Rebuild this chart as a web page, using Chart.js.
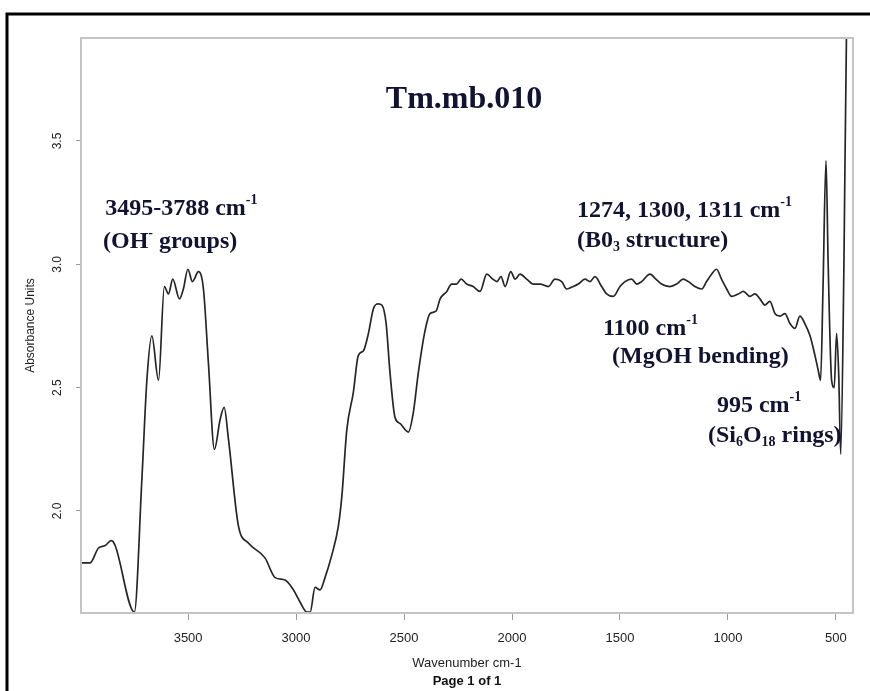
<!DOCTYPE html>
<html>
<head>
<meta charset="utf-8">
<script src="https://cdn.jsdelivr.net/npm/chart.js@4.4.1/dist/chart.umd.min.js"></script>
<style>
  html, body { margin: 0; padding: 0; background: #fff; }
  #wrap { width: 870px; height: 691px; position: relative; }
</style>
</head>
<body>
<div id="wrap"><canvas id="spectrum"></canvas></div>
<script>
// FTIR spectrum (wavenumber cm-1, absorbance)
const wavenumbers = [
  3996, 3954, 3915, 3884, 3856, 3838, 3749, 3714, 3691, 3668, 3637, 3610, 3591, 3571,
  3540, 3522, 3501, 3480, 3452, 3429, 3406, 3378, 3352, 3333, 3313, 3267, 3221, 3144,
  3097, 3051, 3012, 2981, 2950, 2935, 2912, 2889, 2866, 2835, 2804, 2788, 2765, 2735,
  2712, 2688, 2665, 2642, 2619, 2603, 2583, 2565, 2542, 2519, 2480, 2457, 2434, 2403,
  2380, 2352, 2333, 2302, 2280, 2257, 2236, 2210, 2180, 2148, 2117, 2089, 2070, 2051,
  2032, 2006, 1986, 1963, 1932, 1901, 1870, 1832, 1801, 1770, 1747, 1716, 1693, 1662,
  1639, 1616, 1585, 1562, 1531, 1500, 1477, 1446, 1423, 1400, 1361, 1334, 1308, 1269,
  1238, 1207, 1184, 1153, 1122, 1099, 1076, 1053, 1030, 1006, 983, 952, 929, 898,
  875, 852, 829, 806, 782, 759, 736, 713, 690, 667, 644, 620, 597, 582,
  571, 560, 546, 536, 520, 508, 497, 487, 478, 463, 451, 440, 421
];
const absorbance = [
  1.79, 1.79, 1.85, 1.86, 1.88, 1.86, 1.59, 2.13, 2.53, 2.71, 2.53, 2.91, 2.88, 2.94,
  2.86, 2.90, 2.98, 2.93, 2.97, 2.90, 2.60, 2.25, 2.37, 2.42, 2.29, 1.94, 1.87, 1.81,
  1.73, 1.72, 1.68, 1.63, 1.59, 1.59, 1.69, 1.68, 1.73, 1.82, 1.94, 2.06, 2.33, 2.48,
  2.63, 2.65, 2.72, 2.82, 2.84, 2.835, 2.76, 2.56, 2.38, 2.355, 2.32, 2.40, 2.56, 2.73,
  2.80, 2.81, 2.86, 2.89, 2.92, 2.92, 2.94, 2.92, 2.91, 2.89, 2.96, 2.94, 2.93, 2.95,
  2.91, 2.97, 2.94, 2.96, 2.94, 2.92, 2.92, 2.91, 2.94, 2.93, 2.90, 2.91, 2.92, 2.94,
  2.93, 2.95, 2.91, 2.88, 2.87, 2.91, 2.93, 2.94, 2.92, 2.93, 2.96, 2.94, 2.92, 2.91,
  2.92, 2.94, 2.93, 2.91, 2.90, 2.93, 2.96, 2.98, 2.94, 2.90, 2.87, 2.88, 2.89, 2.87,
  2.88, 2.86, 2.835, 2.85, 2.80, 2.79, 2.80, 2.76, 2.74, 2.79, 2.76, 2.71, 2.63, 2.57,
  2.53, 2.90, 3.42, 3.00, 2.53, 2.50, 2.72, 2.55, 2.23, 3.00, 3.95, 4.10, 4.10
];

const xTicks = [3500, 3000, 2500, 2000, 1500, 1000, 500];
const yTicks = [2.0, 2.5, 3.0, 3.5];

const chartTitle = 'Tm.mb.010';
const xTitle = 'Wavenumber cm-1';
const yTitle = 'Absorbance Units';
const pageNote = 'Page 1 of 1';

// band notes, anchored in data units; parts: [text, 'sup' | 'sub' | undefined]
const bandNotes = [
  { x: 3884, y: 3.200, parts: [['3495-3788 cm'], ['-1', 'sup']] },
  { x: 3894, y: 3.066, parts: [['(OH'], ['-', 'sup'], [' groups)']] },
  { x: 1699, y: 3.192, parts: [['1274, 1300, 1311 cm'], ['-1', 'sup']] },
  { x: 1699, y: 3.070, parts: [['(B0'], ['3', 'sub'], [' structure)']] },
  { x: 1579, y: 2.713, parts: [['1100 cm'], ['-1', 'sup']] },
  { x: 1537, y: 2.600, parts: [['(MgOH bending)']] },
  { x: 1051, y: 2.401, parts: [['995 cm'], ['-1', 'sup']] },
  { x: 1093, y: 2.280, parts: [['(Si'], ['6', 'sub'], ['O'], ['18', 'sub'], [' rings)']] }
];
const titleAnchor = { x: 2222, y: 3.634 };

const serif = '"Liberation Serif", "Times New Roman", serif';
const sans = '"Liberation Sans", Arial, sans-serif';
const noteColor = '#121232';

function drawRich(ctx, x, y, parts, size, centered) {
  const fontFor = k => `bold ${k ? Math.round(size * 0.6) : size}px ${serif}`;
  let total = 0;
  parts.forEach(([t, k]) => { ctx.font = fontFor(k); total += ctx.measureText(t).width; });
  let cx = centered ? x - total / 2 : x;
  parts.forEach(([t, k]) => {
    ctx.font = fontFor(k);
    const dy = k === 'sup' ? -size * 0.45 : (k === 'sub' ? size * 0.16 : 0);
    ctx.fillText(t, cx, y + dy);
    cx += ctx.measureText(t).width;
  });
}

const decorations = {
  id: 'decorations',
  beforeDraw(chart) {
    const ctx = chart.ctx;
    ctx.save();
    ctx.fillStyle = '#fff';
    ctx.fillRect(0, 0, chart.width, chart.height);
    // page frame
    ctx.strokeStyle = '#000';
    ctx.lineWidth = 3;
    ctx.beginPath();
    ctx.moveTo(7, chart.height);
    ctx.lineTo(7, 14);
    ctx.lineTo(chart.width, 14);
    ctx.stroke();
    ctx.restore();
  },
  afterDraw(chart) {
    const { ctx, chartArea: a, scales } = chart;
    ctx.save();
    // plot box
    ctx.strokeStyle = '#c4c4c4';
    ctx.lineWidth = 2;
    ctx.strokeRect(a.left, a.top, a.right - a.left, a.bottom - a.top);

    ctx.fillStyle = noteColor;
    ctx.textBaseline = 'alphabetic';
    drawRich(ctx, scales.x.getPixelForValue(titleAnchor.x), scales.y.getPixelForValue(titleAnchor.y),
      [[chartTitle]], 32, true);
    bandNotes.forEach(n => {
      drawRich(ctx, scales.x.getPixelForValue(n.x), scales.y.getPixelForValue(n.y), n.parts, 24, false);
    });

    ctx.fillStyle = '#111';
    ctx.font = `bold 13px ${sans}`;
    ctx.textAlign = 'center';
    ctx.textBaseline = 'middle';
    ctx.fillText(pageNote, (a.left + a.right) / 2, 681);
    ctx.restore();
  }
};

new Chart(document.getElementById('spectrum'), {
  type: 'line',
  data: {
    datasets: [{
      data: wavenumbers.map((w, i) => ({ x: w, y: absorbance[i] })),
      borderColor: '#262626',
      borderWidth: 1.7,
      pointRadius: 0,
      cubicInterpolationMode: 'monotone',
      fill: false
    }]
  },
  options: {
    responsive: true,
    maintainAspectRatio: false,
    animation: false,
    events: [],
    layout: { padding: { top: 38, right: 17, left: 0, bottom: 0 } },
    plugins: {
      legend: { display: false },
      tooltip: { enabled: false }
    },
    scales: {
      x: {
        type: 'linear',
        reverse: true,
        min: 421,
        max: 3996,
        afterBuildTicks: s => { s.ticks = xTicks.map(v => ({ value: v })); },
        afterFit: s => { s.height = 78; },
        border: { display: false },
        grid: { drawOnChartArea: false, drawTicks: true, tickLength: 7, color: '#9a9a9a', lineWidth: 1 },
        ticks: {
          font: { family: sans, size: 13 },
          color: '#222',
          padding: 11,
          maxRotation: 0,
          callback: v => String(v)
        },
        title: {
          display: true,
          text: xTitle,
          font: { family: sans, size: 13 },
          color: '#222',
          padding: { top: 0, bottom: 20 }
        }
      },
      y: {
        type: 'linear',
        min: 1.5865,
        max: 3.9175,
        afterBuildTicks: s => { s.ticks = yTicks.map(v => ({ value: v })); },
        afterFit: s => { s.width = 81; },
        border: { display: false },
        grid: { drawOnChartArea: false, drawTicks: true, tickLength: 5, color: '#9a9a9a', lineWidth: 1 },
        ticks: {
          font: { family: sans, size: 12 },
          color: '#222',
          padding: 10,
          minRotation: 90,
          maxRotation: 90,
          crossAlign: 'center',
          callback: v => v.toFixed(1)
        },
        title: {
          display: true,
          text: yTitle,
          font: { family: sans, size: 12 },
          color: '#222',
          padding: { top: 23, bottom: 0 }
        }
      }
    }
  },
  plugins: [decorations]
});
</script>
</body>
</html>
